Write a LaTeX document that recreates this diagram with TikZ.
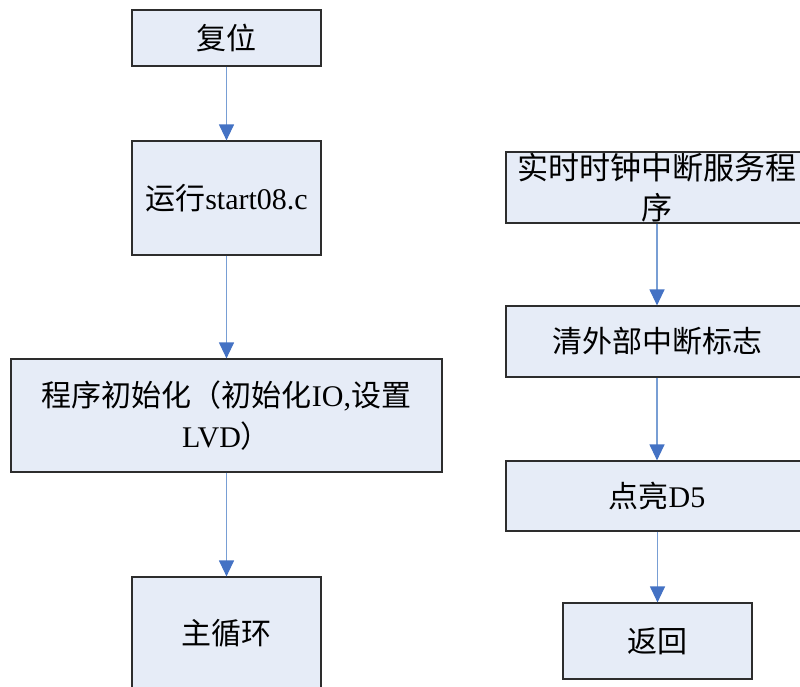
\documentclass[tikz,border=0pt]{standalone}
\usepackage{fontspec}
\setmainfont{Liberation Serif}
\newfontfamily\cjk{Noto Sans CJK SC}
\newcommand\zhtxt[1]{{\cjk #1}}
\usetikzlibrary{arrows.meta}
\definecolor{boxfill}{RGB}{230,236,247}
\definecolor{boxline}{RGB}{45,45,45}
\definecolor{arrline}{RGB}{120,158,212}
\definecolor{arrtip}{RGB}{68,114,196}
\tikzset{
  flowbox/.style={draw=boxline, fill=boxfill, line width=1.2pt, inner sep=0pt,
    align=center, font=\fontsize{30}{41}\selectfont},
  flowarrow/.style={draw=arrline, line width=1.2pt,
    -{Triangle[width=15pt,length=16pt,fill=arrtip,color=arrtip]}}
}
\begin{document}
\begin{tikzpicture}[x=1pt,y=-1pt]
\useasboundingbox (0,0) rectangle (800,686);
\clip (0,0) rectangle (800,686);
\fill[white] (0,0) rectangle (800,686);
% left column
\node[flowbox, minimum width=189pt, minimum height=56pt] (reset) at (226.5,38) {\zhtxt{复位}};
\node[flowbox, minimum width=189pt, minimum height=114pt] (run) at (226.5,198) {\zhtxt{运行}start08.c};
\node[flowbox, minimum width=431pt, minimum height=113pt] (init) at (226.5,415.5)
  {\zhtxt{程序初始化（初始化}IO,\zhtxt{设置}\\LVD\zhtxt{）}};
\node[flowbox, minimum width=189pt, minimum height=112pt] (mainloop) at (226.5,633) {\zhtxt{主循环}};
% right column
\node[flowbox, minimum width=302pt, minimum height=71pt, font=\cjk\fontsize{31}{40}\selectfont] (rtc) at (657,187.5)
  {实时时钟中断服务程\\序};
\node[flowbox, minimum width=302pt, minimum height=71pt] (clr) at (657,341.5) {\zhtxt{清外部中断标志}};
\node[flowbox, minimum width=302pt, minimum height=70pt] (led) at (657,496) {\zhtxt{点亮}D5};
\node[flowbox, minimum width=189pt, minimum height=76pt] (ret) at (657.5,641) {\zhtxt{返回}};
% connectors
\draw[flowarrow] (reset) -- (run);
\draw[flowarrow] (run) -- (init);
\draw[flowarrow] (init) -- (mainloop);
\draw[flowarrow] (rtc) -- (clr);
\draw[flowarrow] (clr) -- (led);
\draw[flowarrow] (led.south -| ret.north) -- (ret);
\end{tikzpicture}
\end{document}
